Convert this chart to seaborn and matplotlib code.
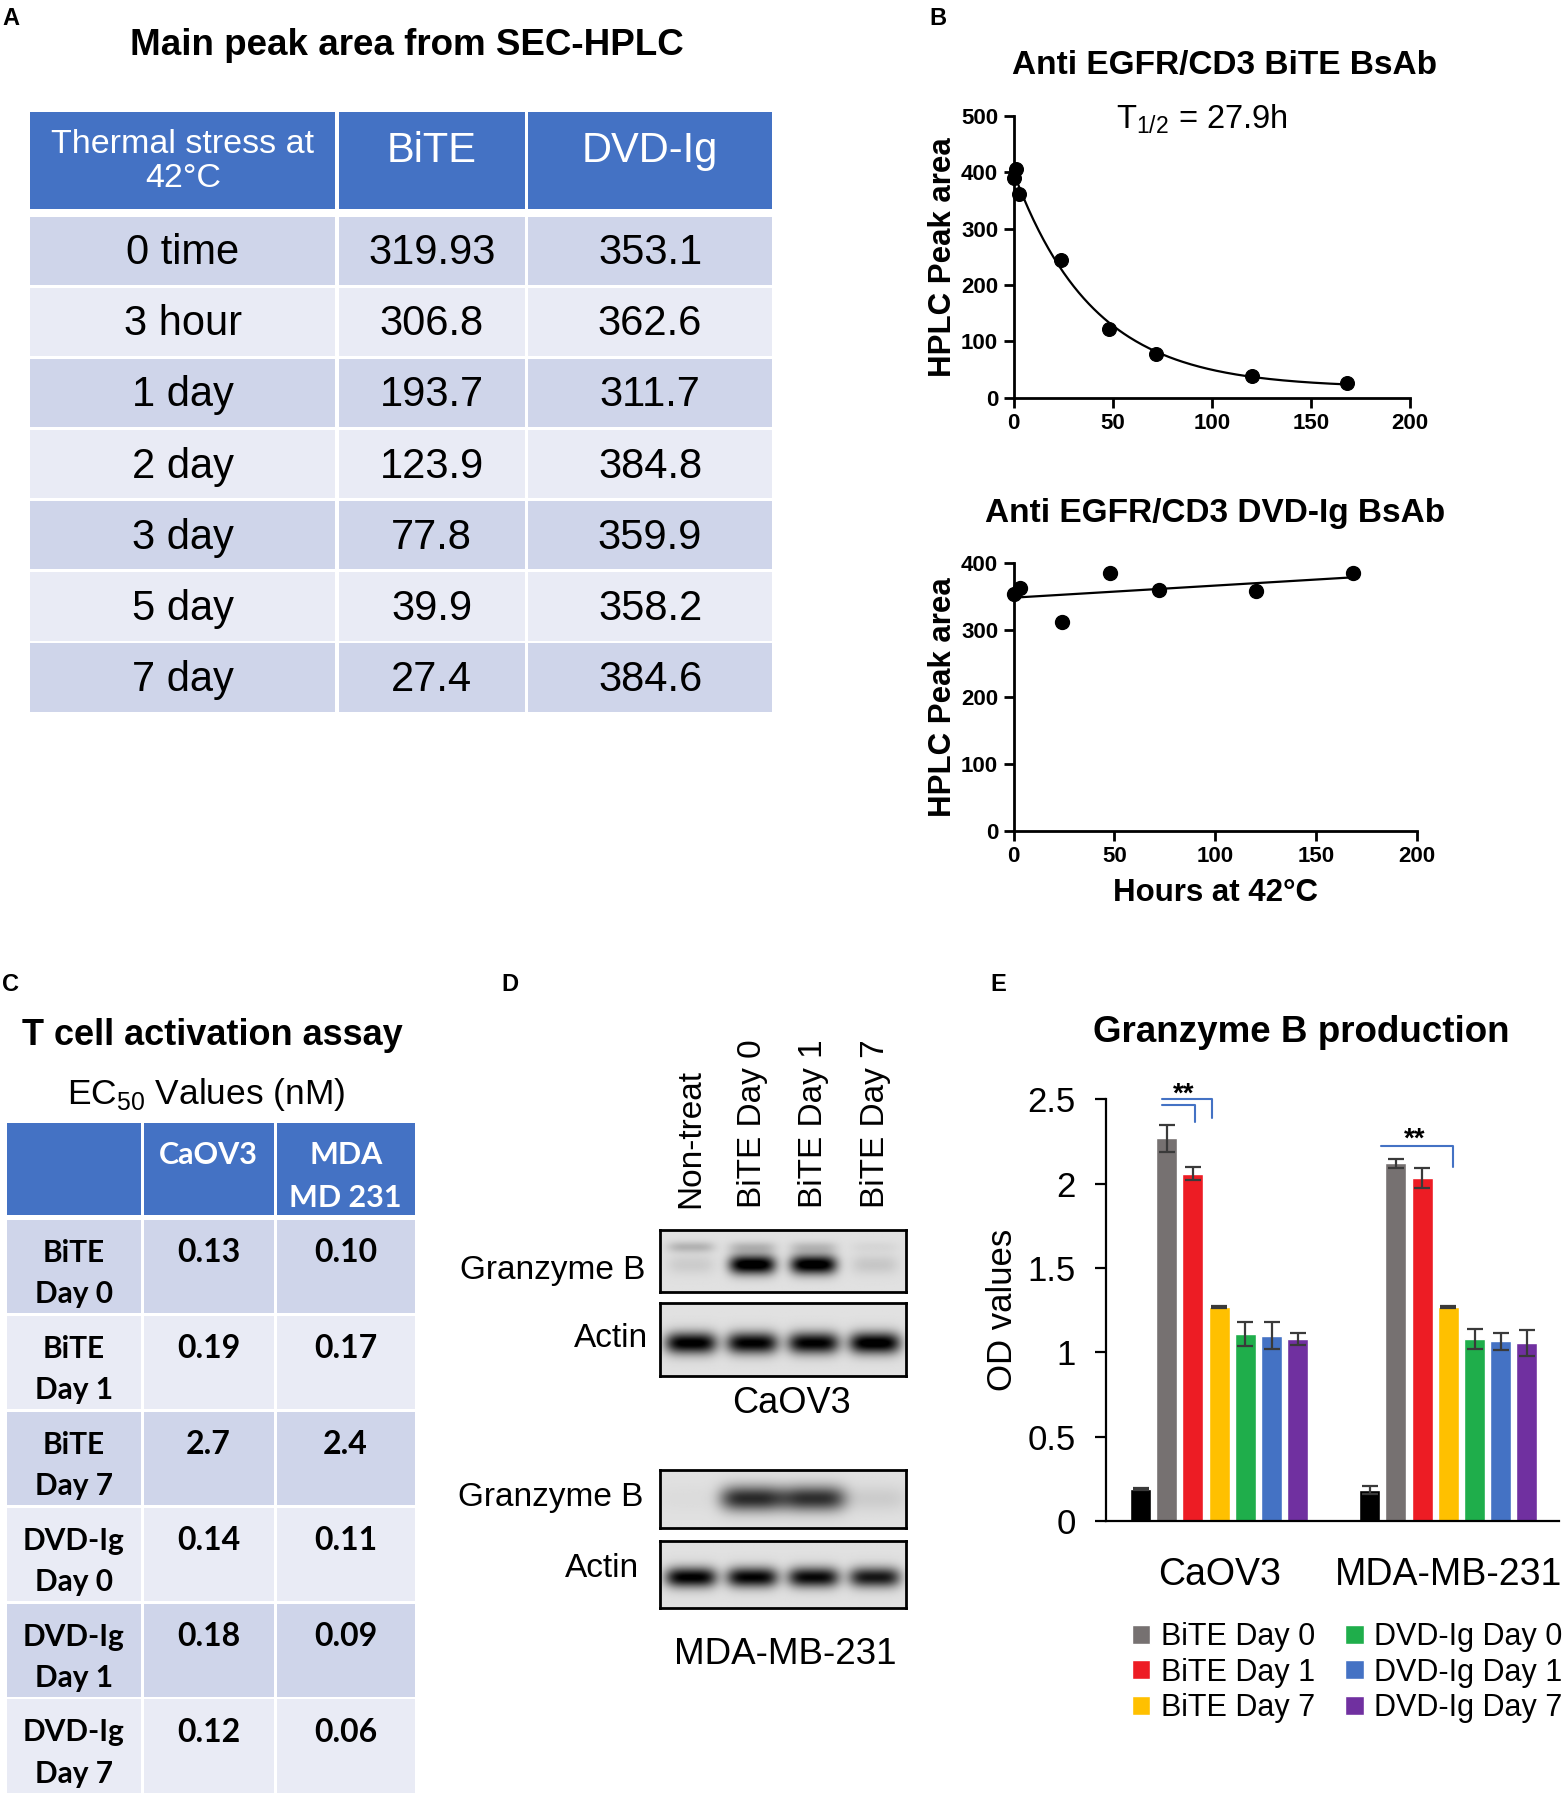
import numpy as np
import pandas as pd
import matplotlib
matplotlib.use('Agg')
import matplotlib.pyplot as plt
import seaborn as sns
from matplotlib.patches import Rectangle, Patch

# ---- data ----
# A: main peak area table
stress_times = ['0 time', '3 hour', '1 day', '2 day', '3 day', '5 day', '7 day']
bite_area = [319.93, 306.8, 193.7, 123.9, 77.8, 39.9, 27.4]
dvd_area = [353.1, 362.6, 311.7, 384.8, 359.9, 358.2, 384.6]

# B: HPLC peak area vs hours at 42C
bite_hours = [0, 1, 3, 24, 48, 72, 120, 168]
bite_peak = [390, 405, 362, 245, 122, 78, 38, 27]
bite_half_life = 27.9
dvd_hours = [0, 3, 24, 48, 72, 120, 168]
dvd_peak = dvd_area

# C: EC50 table
ec50_rows = ['BiTE\nDay 0', 'BiTE\nDay 1', 'BiTE\nDay 7',
             'DVD-Ig\nDay 0', 'DVD-Ig\nDay 1', 'DVD-Ig\nDay 7']
ec50_caov3 = ['0.13', '0.19', '2.7', '0.14', '0.18', '0.12']
ec50_mda = ['0.10', '0.17', '2.4', '0.11', '0.09', '0.06']

# D: western blot lanes and band strengths (0 = none, 1 = black)
blot_lanes = ['Non-treat', 'BiTE Day 0', 'BiTE Day 1', 'BiTE Day 7']
gzb_caov3 = [0.08, 0.98, 0.97, 0.10]
gzb_caov3_upper = [0.18, 0.16, 0.14, 0.04]
actin_caov3 = [0.92, 0.9, 0.9, 0.95]
gzb_mda = [0.02, 0.72, 0.7, 0.08]
actin_mda = [0.9, 0.88, 0.86, 0.8]

# E: granzyme B production
cell_lines = ['CaOV3', 'MDA-MB-231']
treatments = ['Non-treat', 'BiTE Day 0', 'BiTE Day 1', 'BiTE Day 7',
              'DVD-Ig Day 0', 'DVD-Ig Day 1', 'DVD-Ig Day 7']
od_caov3 = [0.19, 2.27, 2.06, 1.27, 1.11, 1.10, 1.08]
err_caov3 = [0.005, 0.08, 0.04, 0.005, 0.07, 0.08, 0.035]
od_mda = [0.185, 2.12, 2.035, 1.27, 1.08, 1.065, 1.055]
err_mda = [0.025, 0.025, 0.06, 0.005, 0.06, 0.05, 0.075]
bar_colors = ['#000000', '#767171', '#ED1C24', '#FFC000', '#1FAE4B', '#4472C4', '#7030A0']

hdr_blue = '#4472C4'
row_dark = '#CFD5EA'
row_light = '#E9EBF5'

sns.set_theme(style='ticks')
plt.rcParams['font.family'] = ['Liberation Sans', 'DejaVu Sans']
plt.rcParams.update({'text.color': 'black', 'axes.edgecolor': 'black',
                     'axes.labelcolor': 'black', 'xtick.color': 'black',
                     'ytick.color': 'black', 'mathtext.fontset': 'custom',
                     'mathtext.rm': 'Liberation Sans'})

fig = plt.figure(figsize=(15.65, 18.02), dpi=100)
W, H = 1365.0, 1572.0


def box(x0, y0, x1, y1):
    return [x0 / W, 1 - y1 / H, (x1 - x0) / W, (y1 - y0) / H]


def ftext(x, y, s, **kw):
    fig.text(x / W, 1 - y / H, s, **kw)


for letter, lx, ly in [('A', 2, 6), ('B', 811, 6), ('C', 2, 849), ('D', 437, 849), ('E', 864, 849)]:
    ftext(lx, ly, letter, fontsize=17, fontweight='bold', va='top', ha='left')

# ---- A: table ----
ftext(355, 40, 'Main peak area from SEC-HPLC', fontsize=26.5, fontweight='bold', ha='center', va='center')
ax_a = fig.add_axes(box(25, 98, 675, 622))
ax_a.set_xlim(0, 650)
ax_a.set_ylim(524, 0)
ax_a.axis('off')
col_a = [0, 269, 434, 650]
header_a = ['Thermal stress at\n42°C', 'BiTE', 'DVD-Ig']
for j in range(3):
    x0, x1 = col_a[j], col_a[j + 1]
    ax_a.add_patch(Rectangle((x0 + 1.5, 0), x1 - x0 - 3, 84, color=hdr_blue, lw=0))
    fs = 24.5 if j == 0 else 30
    ax_a.text((x0 + x1) / 2, 43 if j == 0 else 34, header_a[j], color='white', fontsize=fs,
              ha='center', va='center', linespacing=1.1)
row_h_a = (524 - 90) / 7
for i, (t, b, d) in enumerate(zip(stress_times, bite_area, dvd_area)):
    y0 = 90 + i * row_h_a
    fc = row_dark if i % 2 == 0 else row_light
    for j, s in enumerate([t, f'{b:g}', f'{d:g}']):
        x0, x1 = col_a[j], col_a[j + 1]
        ax_a.add_patch(Rectangle((x0 + 1.5, y0 + 1.2), x1 - x0 - 3, row_h_a - 2.4, color=fc, lw=0))
        ax_a.text((x0 + x1) / 2, y0 + 33, s, fontsize=30, ha='center', va='center')


# ---- B: HPLC peak area ----
def style_b(ax):
    sns.despine(ax=ax)
    for sp in ['left', 'bottom']:
        ax.spines[sp].set_linewidth(2)
    ax.tick_params(direction='out', length=7, width=2, labelsize=16, pad=4)
    for lbl in ax.get_xticklabels() + ax.get_yticklabels():
        lbl.set_fontweight('bold')
    ax.set_ylabel('HPLC Peak area', fontsize=22.5, fontweight='bold', labelpad=2)


ftext(1068, 57, 'Anti EGFR/CD3 BiTE BsAb', fontsize=24, fontweight='bold', ha='center', va='center')
ftext(1048, 104, r'T$_{\mathregular{1/2}}$ = 27.9h', fontsize=23.5, ha='center', va='center')
ax_b1 = fig.add_axes(box(884, 101, 1230, 347))
k = np.log(2) / bite_half_life
bx = np.array(bite_hours, dtype=float)
coef, *_ = np.linalg.lstsq(np.column_stack([np.exp(-k * bx), np.ones_like(bx)]),
                           np.array(bite_peak, dtype=float), rcond=None)
fit_x = np.linspace(0, max(bite_hours), 200)
fit_y = coef[0] * np.exp(-k * fit_x) + coef[1]
sns.lineplot(x=fit_x, y=fit_y, ax=ax_b1, color='black', lw=1.6)
sns.scatterplot(x=bite_hours, y=bite_peak, ax=ax_b1, color='black', s=100,
                edgecolor='black', zorder=3, clip_on=False)
ax_b1.set_xlim(0, 200)
ax_b1.set_ylim(0, 500)
ax_b1.set_xticks(range(0, 201, 50))
ax_b1.set_yticks(range(0, 501, 100))
style_b(ax_b1)

ftext(1060, 448, 'Anti EGFR/CD3 DVD-Ig BsAb', fontsize=24, fontweight='bold', ha='center', va='center')
ax_b2 = fig.add_axes(box(884, 491, 1236, 725))
sns.regplot(x=dvd_hours, y=dvd_peak, ax=ax_b2, ci=None, color='black', truncate=True,
            scatter_kws={'s': 100, 'clip_on': False, 'zorder': 3, 'alpha': 1},
            line_kws={'lw': 1.6})
ax_b2.set_xlim(0, 200)
ax_b2.set_ylim(0, 400)
ax_b2.set_xticks(range(0, 201, 50))
ax_b2.set_yticks(range(0, 401, 100))
style_b(ax_b2)
ax_b2.set_xlabel('Hours at 42°C', fontsize=22.5, fontweight='bold', labelpad=8)

# ---- C: EC50 table ----
ftext(185, 903, 'T cell activation assay', fontsize=26, fontweight='bold', ha='center', va='center')
ftext(180, 955, r'EC$_{\mathregular{50}}$ Values (nM)', fontsize=25.5, ha='center', va='center')
ax_c = fig.add_axes(box(5, 980, 363, 1565))
ax_c.set_xlim(0, 358)
ax_c.set_ylim(585, 0)
ax_c.axis('off')
col_c = [0, 119, 235, 358]
header_c = ['', 'CaOV3', 'MDA\nMD 231']
cfont = ['Lato', 'Liberation Sans', 'DejaVu Sans']
for j in range(3):
    x0, x1 = col_c[j], col_c[j + 1]
    ax_c.add_patch(Rectangle((x0 + 1.2, 0), x1 - x0 - 2.4, 80, color=hdr_blue, lw=0))
    for li, line in enumerate(header_c[j].split('\n')):
        ax_c.text((x0 + x1) / 2, 28 + li * 37, line, color='white', fontsize=22, fontweight='bold',
                  family=cfont, ha='center', va='center')
row_h_c = (585 - 83) / 6
for i, (lab, a, b) in enumerate(zip(ec50_rows, ec50_caov3, ec50_mda)):
    y0 = 83 + i * row_h_c
    fc = row_dark if i % 2 == 0 else row_light
    for j in range(3):
        x0, x1 = col_c[j], col_c[j + 1]
        ax_c.add_patch(Rectangle((x0 + 1.2, y0 + 1.2), x1 - x0 - 2.4, row_h_c - 2.4, color=fc, lw=0))
    for li, line in enumerate(lab.split('\n')):
        ax_c.text((col_c[0] + col_c[1]) / 2, y0 + 30 + li * 36, line, fontsize=21.5, fontweight='bold',
                  family=cfont, ha='center', va='center')
    for j, s in [(1, a), (2, b)]:
        ax_c.text((col_c[j] + col_c[j + 1]) / 2, y0 + 30, s, fontsize=23, fontweight='bold',
                  family=cfont, ha='center', va='center')


# ---- D: western blots ----
def blot_image(strength, center, half_h, half_w, upper=None, rows=60, cols=214):
    yy, xx = np.mgrid[0:1:rows * 1j, 0:1:cols * 1j]
    img = np.full((rows, cols), 0.12)
    for n, s in enumerate(strength):
        cx = (n + 0.5) / len(strength)
        img += s * np.exp(-np.abs((xx - cx) / half_w) ** 4 - ((yy - center) / half_h) ** 2)
        if upper is not None:
            img += upper[n] * np.exp(-np.abs((xx - cx) / half_w) ** 4 - ((yy - 0.27) / 0.09) ** 2)
    return np.clip(img, 0, 1)


blots = [
    ((576, 1073, 790, 1127), blot_image(gzb_caov3, 0.56, 0.16, 0.095, upper=gzb_caov3_upper)),
    ((576, 1137, 790, 1200), blot_image(actin_caov3, 0.55, 0.15, 0.105)),
    ((576, 1282, 790, 1333), blot_image(gzb_mda, 0.5, 0.22, 0.13)),
    ((576, 1344, 790, 1403), blot_image(actin_mda, 0.55, 0.15, 0.105)),
]
for (x0, y0, x1, y1), img in blots:
    ax = fig.add_axes(box(x0, y0, x1, y1))
    ax.imshow(img, cmap='gray_r', vmin=0, vmax=1, aspect='auto', interpolation='bilinear')
    ax.set_xticks([])
    ax.set_yticks([])
    for sp in ax.spines.values():
        sp.set_linewidth(2)
        sp.set_color('black')

for n, lane in enumerate(blot_lanes):
    ftext(576 + (n + 0.5) * 214 / 4, 1054, lane, fontsize=24, rotation=90, ha='center', va='bottom')
ftext(563, 1108, 'Granzyme B', fontsize=24, ha='right', va='center')
ftext(565, 1168, 'Actin', fontsize=24, ha='right', va='center')
ftext(690, 1224, 'CaOV3', fontsize=26, ha='center', va='center')
ftext(561, 1306, 'Granzyme B', fontsize=24, ha='right', va='center')
ftext(557, 1368, 'Actin', fontsize=24, ha='right', va='center')
ftext(685, 1443, 'MDA-MB-231', fontsize=26.5, ha='center', va='center')

# ---- E: granzyme B production ----
ftext(1135, 901, 'Granzyme B production', fontsize=26.5, fontweight='bold', ha='center', va='center')
ax_e = fig.add_axes(box(965, 959, 1360, 1327))
df_e = pd.DataFrame({'cell': np.repeat(cell_lines, len(treatments)),
                     'treatment': treatments * len(cell_lines),
                     'od': od_caov3 + od_mda})
sns.barplot(data=df_e, x='cell', y='od', hue='treatment', order=cell_lines, hue_order=treatments,
            palette=bar_colors, saturation=1, errorbar=None, width=0.8, gap=0.2,
            legend=False, ax=ax_e)
bar_conts = list(ax_e.containers)
errs = [err_caov3, err_mda]
for hi, cont in enumerate(bar_conts):
    for ci, bar in enumerate(cont):
        xc = bar.get_x() + bar.get_width() / 2
        ax_e.errorbar(xc, bar.get_height(), yerr=errs[ci][hi], color='#3a3a3a', lw=1.6,
                      capsize=6, capthick=1.6, zorder=4)


# significance brackets
def bar_x(hi, ci):
    b = bar_conts[hi][ci]
    return b.get_x() + b.get_width() / 2


sig_c = '#4472C4'
xs = bar_x(1, 0) - 0.02
ax_e.plot([xs, bar_x(2, 0) + 0.01, bar_x(2, 0) + 0.01], [2.466, 2.466, 2.365],
          color=sig_c, lw=1.5, clip_on=False)
ax_e.plot([xs, bar_x(3, 0) - 0.03, bar_x(3, 0) - 0.03], [2.504, 2.504, 2.388],
          color=sig_c, lw=1.5, clip_on=False)
ax_e.text(bar_x(2, 0) - 0.04, 2.53, '**', fontsize=20, fontweight='bold', ha='center', va='center')
xs2 = bar_x(0, 1) + 0.05
ax_e.plot([xs2, bar_x(3, 1) + 0.02, bar_x(3, 1) + 0.02], [2.223, 2.223, 2.10],
          color=sig_c, lw=1.5, clip_on=False)
ax_e.text((xs2 + bar_x(3, 1)) / 2, 2.26, '**', fontsize=20, fontweight='bold', ha='center', va='center')

ax_e.set_xlim(-0.492, 1.484)
ax_e.set_ylim(0, 2.5)
ax_e.set_yticks([0, 0.5, 1, 1.5, 2, 2.5])
ax_e.set_yticklabels(['0', '0.5', '1', '1.5', '2', '2.5'])
ax_e.set_xlabel('')
ax_e.set_ylabel('OD values', fontsize=25, labelpad=6)
sns.despine(ax=ax_e)
for sp in ['left', 'bottom']:
    ax_e.spines[sp].set_linewidth(1.6)
ax_e.tick_params(axis='y', labelsize=25, length=8, width=1.6, pad=14)
ax_e.tick_params(axis='x', labelsize=27, length=0, pad=26)

handles = [Patch(facecolor=c, label=t) for t, c in zip(treatments[1:], bar_colors[1:])]
fig.legend(handles=handles, loc='upper left', bbox_to_anchor=(987 / W, 1 - 1415 / H), ncol=2,
           frameon=False, fontsize=22, handlelength=0.6, handleheight=0.6, handletextpad=0.35,
           columnspacing=1.0, labelspacing=0.18, borderaxespad=0, borderpad=0)

fig.savefig('out.png', dpi=100, facecolor='white')
